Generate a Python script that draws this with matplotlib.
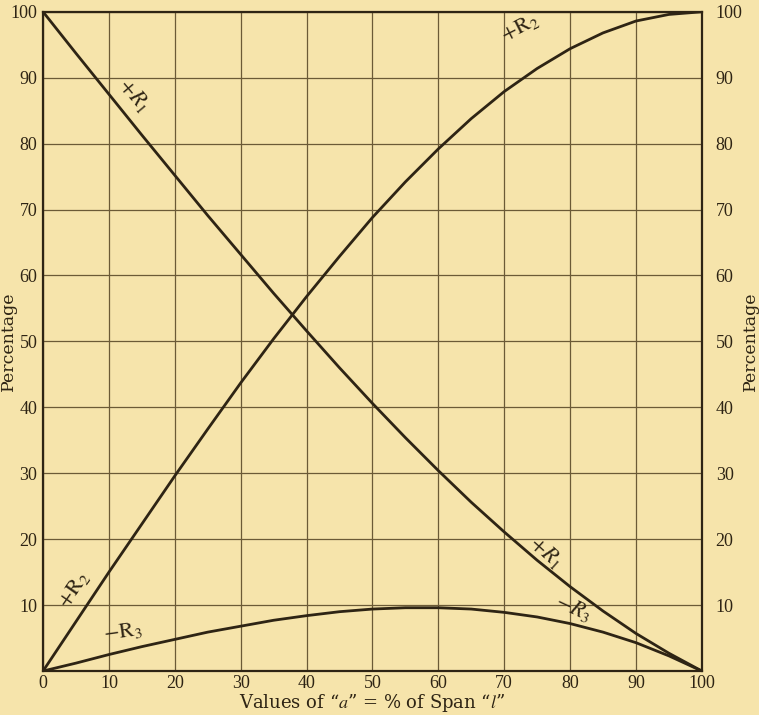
import matplotlib
matplotlib.use("Agg")
import matplotlib.pyplot as plt

# --- Values (percent of span vs percentage) ---
a_pct = [0, 5, 10, 15, 20, 25, 30, 35, 40, 45, 50,
         55, 60, 65, 70, 75, 80, 85, 90, 95, 100]
r1 = [100, 93.7, 87.5, 81.3, 75.2, 69.1, 63.2, 57.3, 51.6, 46.0, 40.6,
      35.4, 30.4, 25.6, 21.1, 16.8, 12.8, 9.1, 5.7, 2.7, 0]
r2 = [0, 7.5, 15.0, 22.3, 29.6, 36.7, 43.7, 50.4, 56.8, 62.9, 68.8,
      74.2, 79.2, 83.8, 87.9, 91.4, 94.4, 96.8, 98.6, 99.6, 100]
r3 = [0, 1.2, 2.5, 3.7, 4.8, 5.9, 6.8, 7.7, 8.4, 9.0, 9.4,
      9.6, 9.6, 9.4, 8.9, 8.2, 7.2, 5.9, 4.3, 2.3, 0]

x_ticks = list(range(0, 101, 10))
y_ticks = list(range(10, 101, 10))

# --- Style ---
paper = "#f6e4ab"
ink = "#2e2414"
plt.rcParams.update({
    "font.family": "Liberation Serif",
    "mathtext.fontset": "stix",
    "font.size": 13,
})

fig = plt.figure(figsize=(7.59, 7.15), dpi=100, facecolor=paper)
ax = fig.add_axes([0.0567, 0.0615, 0.868, 0.922], facecolor=paper)

for v in x_ticks:
    ax.axvline(v, color="#6b5a36", lw=0.9, zorder=1)
for v in range(0, 101, 10):
    ax.axhline(v, color="#6b5a36", lw=0.9, zorder=1)

ax.plot(a_pct, r1, color=ink, lw=2.0, zorder=3)
ax.plot(a_pct, r2, color=ink, lw=2.0, zorder=3)
ax.plot(a_pct, r3, color=ink, lw=2.0, zorder=3)

ax.set_xlim(0, 100)
ax.set_ylim(0, 100)
for s in ax.spines.values():
    s.set_color(ink)
    s.set_linewidth(1.6)

ax.set_xticks(x_ticks)
ax.set_xticklabels([str(v) for v in x_ticks])
ax.set_yticks(y_ticks)
ax.set_yticklabels([str(v) for v in y_ticks])
ax.tick_params(axis="both", length=0, colors=ink, labelsize=13)
ax.tick_params(axis="x", pad=3)
ax.tick_params(axis="y", pad=4)

# right-hand scale
ax2 = ax.twinx()
ax2.set_ylim(0, 100)
ax2.set_yticks(y_ticks)
ax2.set_yticklabels([str(v) for v in y_ticks])
ax2.tick_params(axis="y", length=0, colors=ink, labelsize=13, pad=10)
for s in ax2.spines.values():
    s.set_visible(False)

label_font = dict(color=ink, fontsize=12.5, family="DejaVu Serif")
ax.set_ylabel("Percentage", **label_font)
ax.yaxis.set_label_coords(-0.040, 0.5)
ax2.set_ylabel("Percentage", rotation=90, **label_font)
ax2.yaxis.set_label_coords(1.061, 0.5)
ax.set_xlabel("Values of \u201c$a$\u201d = % of Span \u201c$l$\u201d",
              color=ink, fontsize=13, family="DejaVu Serif")
ax.xaxis.set_label_coords(0.5, -0.049)
ax.xaxis.label.set_va("center")

# --- Curve labels ---
lab = dict(color=ink, fontsize=16, ha="center", va="center", zorder=4)
ax.text(13.9, 87.4, r"$+R_1$", rotation=-50, **lab)
ax.text(72.4, 97.6, r"$+\mathrm{R}_2$", rotation=27, **lab)
ax.text(4.7, 12.4, r"$+\mathrm{R}_2$", rotation=55, **lab)
ax.text(12.2, 5.9, r"$-\mathrm{R}_3$", rotation=8, **lab)
ax.text(76.3, 18.0, r"$+R_1$", rotation=-42, **lab)
ax.text(80.5, 9.5, r"$-R_3$", rotation=-25, **lab)

fig.savefig("out.png", dpi=100, facecolor=paper)
